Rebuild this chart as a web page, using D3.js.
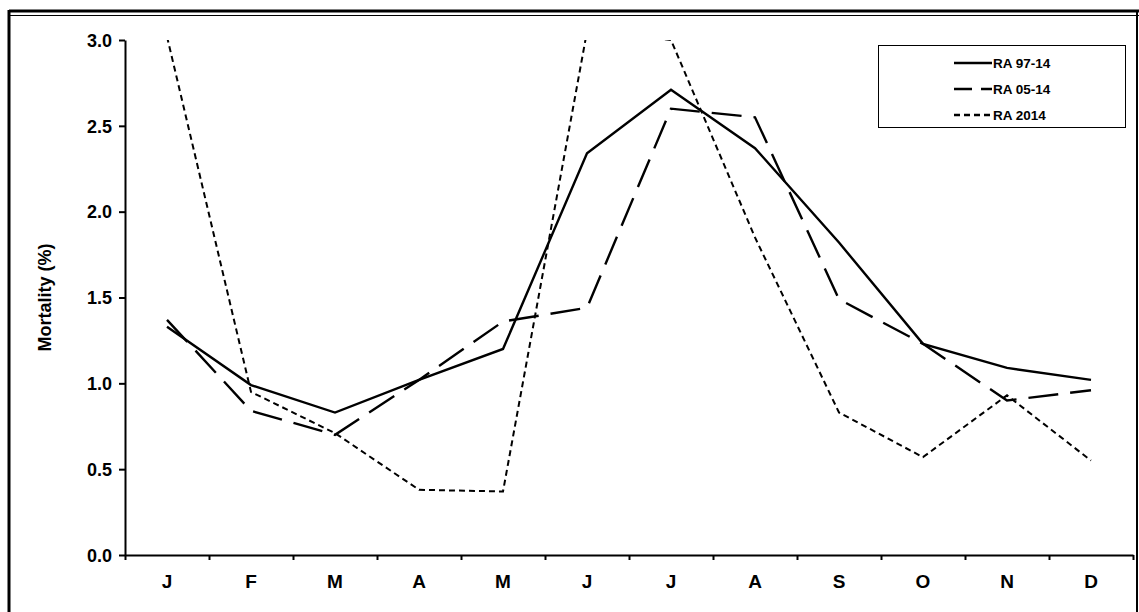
<!DOCTYPE html>
<html><head><meta charset="utf-8">
<script src="https://cdn.jsdelivr.net/npm/d3@7"></script>
<style>body{margin:0;background:#fff}svg{display:block}text{font-family:"Liberation Sans",Arial,sans-serif;font-weight:bold}</style>
</head><body><svg id="c" width="1139" height="612"></svg>
<script>
const months = ["J","F","M","A","M","J","J","A","S","O","N","D"];
const ra9714 = [1.33,0.99,0.83,1.02,1.20,2.34,2.71,2.37,1.82,1.23,1.09,1.02];
const ra0514 = [1.37,0.84,0.70,1.02,1.36,1.44,2.60,2.55,1.49,1.23,0.90,0.96];
const ra2014 = [3.02,0.95,0.71,0.38,0.37,3.05,3.0,1.85,0.83,0.57,0.93,0.55];
const yTicks = [0,0.5,1,1.5,2,2.5,3];
const series = [
  {name:"RA 97-14", values:ra9714, dash:null},
  {name:"RA 05-14", values:ra0514, dash:"30,12"},
  {name:"RA 2014", values:ra2014, dash:"6,4"}
];
const svg = d3.select("#c");
svg.append("line").attr("x1",9).attr("x2",1139).attr("y1",11).attr("y2",11).attr("stroke","#000").attr("stroke-width",3);
svg.append("line").attr("x1",9).attr("x2",1139).attr("y1",15.5).attr("y2",15.5).attr("stroke","#000").attr("stroke-width",1);
svg.append("line").attr("x1",9).attr("x2",9).attr("y1",10).attr("y2",612).attr("stroke","#000").attr("stroke-width",3);
svg.append("line").attr("x1",1137).attr("x2",1137).attr("y1",10).attr("y2",612).attr("stroke","#000").attr("stroke-width",2);
const L=125,R=1133,T=40,B=555;
const x = d3.scaleBand().domain(d3.range(12)).range([L,R]);
const y = d3.scaleLinear().domain([0,3]).range([B,T]);
svg.append("defs").append("clipPath").attr("id","clp").append("rect").attr("x",L).attr("y",T).attr("width",R-L).attr("height",B-T);
const line = d3.line().x((d,i)=>x(i)+x.bandwidth()/2).y(d=>y(d));
const g = svg.append("g").attr("clip-path","url(#clp)");
series.forEach(s=>{
  g.append("path").attr("d",line(s.values)).attr("fill","none").attr("stroke","#000")
   .attr("stroke-width",s.dash==="6,4"?2:2.4).attr("stroke-dasharray",s.dash);
});
const ya = svg.append("g").attr("transform",`translate(${L},0)`).call(d3.axisLeft(y).tickValues(yTicks).tickFormat(d3.format(".1f")).tickSize(6).tickSizeOuter(0));
ya.selectAll("text").style("font-size","18px").attr("dx",-4).attr("dy","0.35em");
svg.append("g").attr("transform",`translate(0,${B})`).call(d3.axisBottom(d3.scaleLinear().domain([0,12]).range([L,R])).tickValues(d3.range(13)).tickFormat("").tickSize(5).tickSizeOuter(0));
svg.append("g").selectAll("text").data(months).join("text").attr("x",(d,i)=>x(i)+x.bandwidth()/2).attr("y",B+33).attr("text-anchor","middle").style("font-size","19px").text(d=>d);
svg.selectAll(".domain,.tick line").attr("stroke","#000").attr("stroke-width",2);
svg.append("text").attr("transform",`translate(51,${(T+B)/2}) rotate(-90)`).attr("text-anchor","middle").style("font-size","18px").text("Mortality (%)");
const lg = svg.append("g");
lg.append("rect").attr("x",878.5).attr("y",45.5).attr("width",247).attr("height",82).attr("fill","#fff").attr("stroke","#000").attr("stroke-width",1);
series.forEach((s,i)=>{
  const yy = 63+i*26;
  lg.append("line").attr("x1",954).attr("x2",992).attr("y1",yy).attr("y2",yy).attr("stroke","#000").attr("stroke-width",2.4).attr("stroke-dasharray",s.dash==="30,12"?"18,9":s.dash==="6,4"?"6,4":null);
  lg.append("text").attr("x",993).attr("y",yy+5).style("font-size","13.5px").text(s.name);
});
</script></body></html>
